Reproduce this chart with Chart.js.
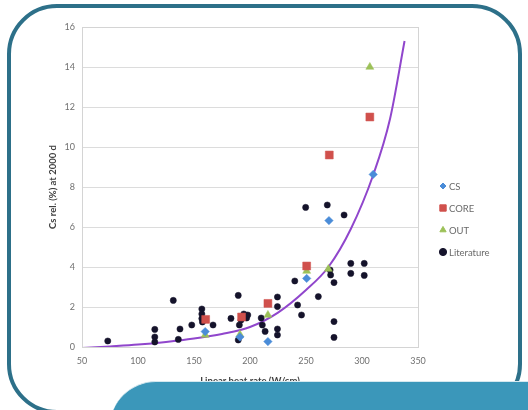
<!DOCTYPE html>
<html>
<head>
<meta charset="utf-8">
<script src="https://cdn.jsdelivr.net/npm/chart.js@4.4.1/dist/chart.umd.min.js"></script>
<style>
  html, body { margin: 0; padding: 0; background: #fff; }
  #wrap { position: relative; width: 528px; height: 410px; overflow: hidden; background: #fff; }
  #frame {
    position: absolute; left: 7px; top: 4px; width: 515px; height: 410px;
    box-sizing: border-box; border: 4px solid #2d7089; border-radius: 50px;
  }
  #panel {
    position: absolute; left: 110px; top: 381px; width: 440px; height: 60px;
    background: #3b97ba; border-top-left-radius: 46px; border-top: 1px solid #d5e8ef;
  }
  canvas { position: absolute; left: 0; top: 0; }
</style>
</head>
<body>
<div id="wrap">
  <div id="frame"></div>
  <canvas id="c" width="528" height="410"></canvas>
  <div id="panel"></div>
</div>
<script>
// Series names (legend order)
const seriesNames = ['CS', 'CORE', 'OUT', 'Literature'];

// CS measurements
const csX = [160, 191, 216, 250.6, 270.5, 310];
const csY = [0.77, 0.5, 0.27, 3.43, 6.32, 8.63];

// CORE measurements
const coreX = [160.4, 192.5, 216, 250.6, 270.8, 307];
const coreY = [1.38, 1.5, 2.18, 4.05, 9.6, 11.5];

// OUT measurements
const outX = [160, 191, 216, 250.6, 270, 307];
const outY = [0.6, 0.62, 1.6, 3.8, 3.9, 14.0];

// Literature data
const litX = [73, 115, 115, 115, 131.5, 136, 137.5, 148, 157, 157, 157, 157.5, 167, 183,
              189.5, 189.5, 190.5, 192, 194.5, 197, 198, 210, 211, 213.5, 224.5, 224.5,
              224.5, 224.5, 240, 242.5, 246, 249.7, 261, 269, 271.5, 272, 275, 275, 275,
              284, 290, 290, 302, 302];
const litY = [0.3, 0.88, 0.5, 0.25, 2.33, 0.38, 0.9, 1.1, 1.9, 1.65, 1.42, 1.25, 1.1, 1.43,
              2.58, 0.35, 1.1, 1.35, 1.65, 1.45, 1.6, 1.45, 1.1, 0.78, 2.5, 2.02,
              0.9, 0.6, 3.3, 2.1, 1.6, 6.98, 2.52, 7.1, 3.85, 3.6, 3.22, 1.27, 0.48,
              6.6, 4.18, 3.68, 4.18, 3.58];

// Trend curve through the data
const fitX = [50, 75, 100, 125, 150, 175, 200, 225, 250, 270, 290, 310, 325, 338];
const fitY = [-0.05, 0.03, 0.12, 0.25, 0.42, 0.65, 1.0, 1.72, 2.85, 4.0, 5.9, 8.6, 11.4, 15.3];

// Axis ticks
const xTicks = [50, 100, 150, 200, 250, 300, 350];
const yTicks = [0, 2, 4, 6, 8, 10, 12, 14, 16];

const xTitle = 'Linear heat rate (W/cm)';
const yTitle = 'Cs rel. (%) at 2000 d';

const pts = (xs, ys) => xs.map((x, i) => ({ x: x, y: ys[i] }));

Chart.defaults.font.family = 'Lato, "Liberation Sans", sans-serif';

const styles = [
  { pointStyle: 'rectRot', radius: 4.2, color: '#4a8cd8', legendRadius: 3 },
  { pointStyle: 'rect', radius: 5.6, color: '#d0504c', legendRadius: 4.5 },
  { pointStyle: 'triangle', radius: 4.6, color: '#9cc158', legendRadius: 3.6 },
  { pointStyle: 'circle', radius: 3.1, color: '#15132b', legendRadius: 3.6 }
];
const seriesData = [pts(csX, csY), pts(coreX, coreY), pts(outX, outY), pts(litX, litY)];

const datasets = seriesNames.map((name, i) => ({
  label: name,
  data: seriesData[i],
  pointStyle: styles[i].pointStyle,
  pointRadius: styles[i].radius,
  pointHoverRadius: styles[i].radius,
  backgroundColor: styles[i].color,
  borderColor: styles[i].color,
  borderWidth: 0.5,
  showLine: false
}));
datasets.push({
  label: 'trend',
  data: pts(fitX, fitY),
  showLine: true,
  pointRadius: 0,
  borderColor: '#9046cc',
  borderWidth: 2,
  cubicInterpolationMode: 'monotone',
  fill: false
});

// Plot-area frame and the side legend
const plotDecor = {
  id: 'plotDecor',
  beforeDatasetsDraw(chart) {
    const { ctx, chartArea: a } = chart;
    ctx.save();
    ctx.strokeStyle = '#d4d4d4';
    ctx.lineWidth = 1;
    ctx.strokeRect(Math.round(a.left) + 0.5, Math.round(a.top) + 0.5,
                   Math.round(a.right - a.left), Math.round(a.bottom - a.top));
    ctx.restore();
  },
  afterDraw(chart) {
    const ctx = chart.ctx;
    const mx = chart.chartArea.right + 25;
    const y0 = 186, step = 22;
    ctx.save();
    ctx.font = '9.5px Lato, "Liberation Sans", sans-serif';
    ctx.textBaseline = 'middle';
    ctx.textAlign = 'left';
    seriesNames.forEach((name, i) => {
      const y = y0 + i * step;
      ctx.fillStyle = styles[i].color;
      ctx.strokeStyle = styles[i].color;
      Chart.helpers.drawPoint(ctx, { pointStyle: styles[i].pointStyle, radius: styles[i].legendRadius, borderWidth: 0.5, rotation: 0 }, mx, y);
      ctx.fillStyle = '#6a6a6a';
      ctx.fillText(name, mx + 6, y + 0.5);
    });
    ctx.restore();
  }
};

new Chart(document.getElementById('c'), {
  type: 'scatter',
  data: { datasets: datasets },
  options: {
    responsive: false,
    animation: false,
    layout: { padding: { left: 40, top: 27, right: 110, bottom: 0 } },
    plugins: { legend: { display: false }, tooltip: { enabled: false } },
    scales: {
      x: {
        type: 'linear', min: 50, max: 350,
        afterBuildTicks: s => { s.ticks = xTicks.map(v => ({ value: v })); },
        afterFit: s => { s.height = 63; },
        grid: { display: false, drawTicks: false },
        border: { display: true, color: '#c9c9c9' },
        ticks: { color: '#707070', font: { size: 9 }, padding: 9 },
        title: { display: true, text: xTitle, color: '#404040', font: { size: 9.5, weight: 'bold' }, padding: { top: 0, bottom: 23 } }
      },
      y: {
        type: 'linear', min: 0, max: 16,
        afterBuildTicks: s => { s.ticks = yTicks.map(v => ({ value: v })); },
        afterFit: s => { s.width = 42; },
        grid: { color: '#dcdcdc', drawTicks: false },
        border: { display: true, color: '#c9c9c9' },
        ticks: { color: '#707070', font: { size: 9 }, padding: 7 },
        title: { display: true, text: yTitle, color: '#404040', font: { size: 9.5, weight: 'bold' }, padding: { top: 7, bottom: 0 } }
      }
    }
  },
  plugins: [plotDecor]
});
</script>
</body>
</html>
